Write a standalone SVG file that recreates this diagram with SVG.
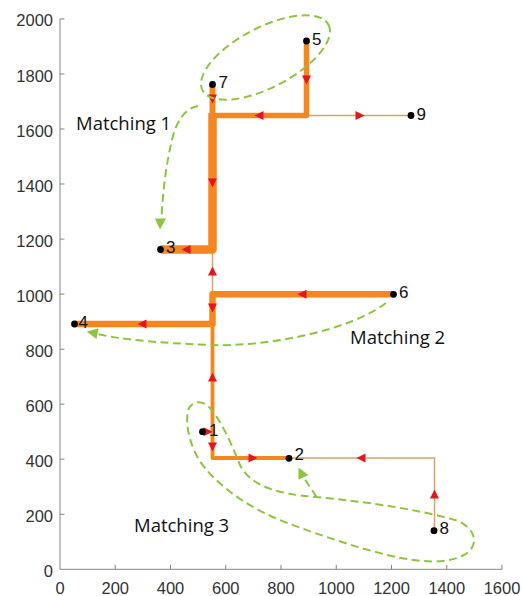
<svg xmlns="http://www.w3.org/2000/svg" width="522" height="596" viewBox="0 0 522 596">
<style>
.ax{stroke:#858585;stroke-width:1;fill:none}
.tk{font-family:"Liberation Sans",Arial,sans-serif;font-size:16.5px;fill:#333}
.yl{text-anchor:end}
.xl{text-anchor:middle}
.thick{stroke:#f7861f;fill:none;stroke-linejoin:round}
.thin{stroke:#dba36a;stroke-width:1.5;fill:none}
.arr{fill:#e8141b}
.dot{fill:#000}
.lbl{font-family:"Liberation Sans",Arial,sans-serif;font-size:17px;fill:#111}
.grn{stroke:#8cc63f;stroke-width:2;stroke-dasharray:8 4.5;fill:none}
.gh{fill:#8cc63f}
.mt{font-family:"Open Sans",sans-serif;font-size:18.5px;fill:#111}
</style>
<defs><path id="tri" d="M4.5,0 L-4.5,-4.5 L-4.5,4.5 Z"/></defs>
<rect width="522" height="596" fill="#fff"/>
<g id="axes">
<path class="ax" d="M60,18.9 V569.3 H502"/>
<path class="ax" d="M60,514.3h4.5M60,459.2h4.5M60,404.2h4.5M60,349.2h4.5M60,294.1h4.5M60,239.1h4.5M60,184h4.5M60,129h4.5M60,74h4.5M60,18.9h4.5M115.25,569.3v-4.5M170.5,569.3v-4.5M225.75,569.3v-4.5M281,569.3v-4.5M336.25,569.3v-4.5M391.5,569.3v-4.5M446.75,569.3v-4.5M502,569.3v-4.5"/>
<g class="tk yl">
<text x="53" y="576.8">0</text>
<text x="53" y="521.8">200</text>
<text x="53" y="466.7">400</text>
<text x="53" y="411.7">600</text>
<text x="53" y="356.7">800</text>
<text x="53" y="301.6">1000</text>
<text x="53" y="246.6">1200</text>
<text x="53" y="191.5">1400</text>
<text x="53" y="136.5">1600</text>
<text x="53" y="81.5">1800</text>
<text x="53" y="26.4">2000</text>
</g>
<g class="tk xl">
<text x="60" y="594">0</text>
<text x="115.25" y="594">200</text>
<text x="170.5" y="594">400</text>
<text x="225.75" y="594">600</text>
<text x="281" y="594">800</text>
<text x="336.25" y="594">1000</text>
<text x="391.5" y="594">1200</text>
<text x="446.75" y="594">1400</text>
<text x="502" y="594">1600</text>
</g>
</g>
<g id="connectors">
<path class="thin" d="M306.5,115.5 H411"/>
<path class="thin" d="M212.5,249.5 V294.3"/>
<path class="thin" d="M289,458 H434.5 V530.7"/>
<path class="thick" stroke-width="5.5" d="M306.5,41 V115.5 H212.5"/>
<path class="thick" stroke-width="6" d="M212.5,84.5 V115.5"/>
<path class="thick" stroke-width="8.5" d="M212.5,113 V249.5 H160.5"/>
<path class="thick" stroke-width="6.5" d="M393.5,294.3 H212.5 V324 H74.5"/>
<path class="thick" stroke-width="3.8" d="M212.5,322 V458 H289"/>
<path class="thick" stroke-width="2" d="M202.5,431.7 H212.5"/>
<g class="arr">
<use href="#tri" transform="translate(306.5,80) rotate(90)"/>
<use href="#tri" transform="translate(212.5,99) rotate(90)"/>
<use href="#tri" transform="translate(259,115.5) rotate(180)"/>
<use href="#tri" transform="translate(360,115.5)"/>
<use href="#tri" transform="translate(212.5,183) rotate(90)"/>
<use href="#tri" transform="translate(186,249.5) rotate(180)"/>
<use href="#tri" transform="translate(212.5,271) rotate(-90)"/>
<use href="#tri" transform="translate(212.5,308) rotate(90)"/>
<use href="#tri" transform="translate(142,324) rotate(180)"/>
<use href="#tri" transform="translate(302,294.3) rotate(180)"/>
<use href="#tri" transform="translate(212.5,377) rotate(-90)"/>
<use href="#tri" transform="translate(208,431.7)"/>
<use href="#tri" transform="translate(212.5,447) rotate(90)"/>
<use href="#tri" transform="translate(253,458)"/>
<use href="#tri" transform="translate(361,458) rotate(180)"/>
<use href="#tri" transform="translate(434.5,494) rotate(-90)"/>
</g>
</g>
<g id="node1"><circle class="dot" cx="202.5" cy="431.7" r="3.4"/><text class="lbl" x="209" y="436">1</text></g>
<g id="node2"><circle class="dot" cx="289" cy="458.3" r="3.4"/><text class="lbl" x="294.5" y="460">2</text></g>
<g id="node3"><circle class="dot" cx="160.5" cy="249.5" r="3.4"/><text class="lbl" x="166" y="253">3</text></g>
<g id="node4"><circle class="dot" cx="74.5" cy="324" r="3.4"/><text class="lbl" x="78.5" y="327.5">4</text></g>
<g id="node5"><circle class="dot" cx="306.5" cy="41" r="3.4"/><text class="lbl" x="312" y="45">5</text></g>
<g id="node6"><circle class="dot" cx="393.5" cy="294.3" r="3.4"/><text class="lbl" x="399" y="298">6</text></g>
<g id="node7"><circle class="dot" cx="212.5" cy="84.5" r="3.4"/><text class="lbl" x="218.5" y="87.5">7</text></g>
<g id="node8"><circle class="dot" cx="434" cy="530.7" r="3.4"/><text class="lbl" x="439.5" y="534">8</text></g>
<g id="node9"><circle class="dot" cx="411" cy="115.5" r="3.4"/><text class="lbl" x="416.5" y="119.5">9</text></g>
<g id="matching1">
<ellipse class="grn" cx="265.5" cy="57.5" rx="71" ry="30" transform="rotate(-27.5 265.5 57.5)"/>
<path class="grn" d="M198,106 C185,108 176,122 172,140 C166,165 163,190 161.5,218"/>
<path class="gh" d="M160,229.5 L154.8,218.5 L166,218.5 Z"/>
<text class="mt" x="76" y="129.5">Matching 1</text>
</g>
<g id="matching2">
<path class="grn" d="M386,303 C350,330 270,347 210,345 C160,343 125,340 97,334"/>
<path class="gh" d="M86.7,331.5 L98.6,328.3 L96.4,339.1 Z"/>
<text class="mt" x="350" y="343.5">Matching 2</text>
</g>
<g id="matching3">
<path class="grn" d="M188,410 C192,400 203,400 210,408 C222,422 232,445 240,465 C250,485 275,494 316,497 C370,502 420,510 455,520 C478,528 480,548 462,556 C445,564 420,562 396,557 C360,549 320,535 290,524 C255,511 225,492 205,468 C190,450 185,425 188,410 Z"/>
<path class="grn" d="M316.5,497 L304,478"/>
<path class="gh" d="M298.5,467.5 L308.3,475 L298.4,479.8 Z"/>
<text class="mt" x="134" y="532">Matching 3</text>
</g>
</svg>
